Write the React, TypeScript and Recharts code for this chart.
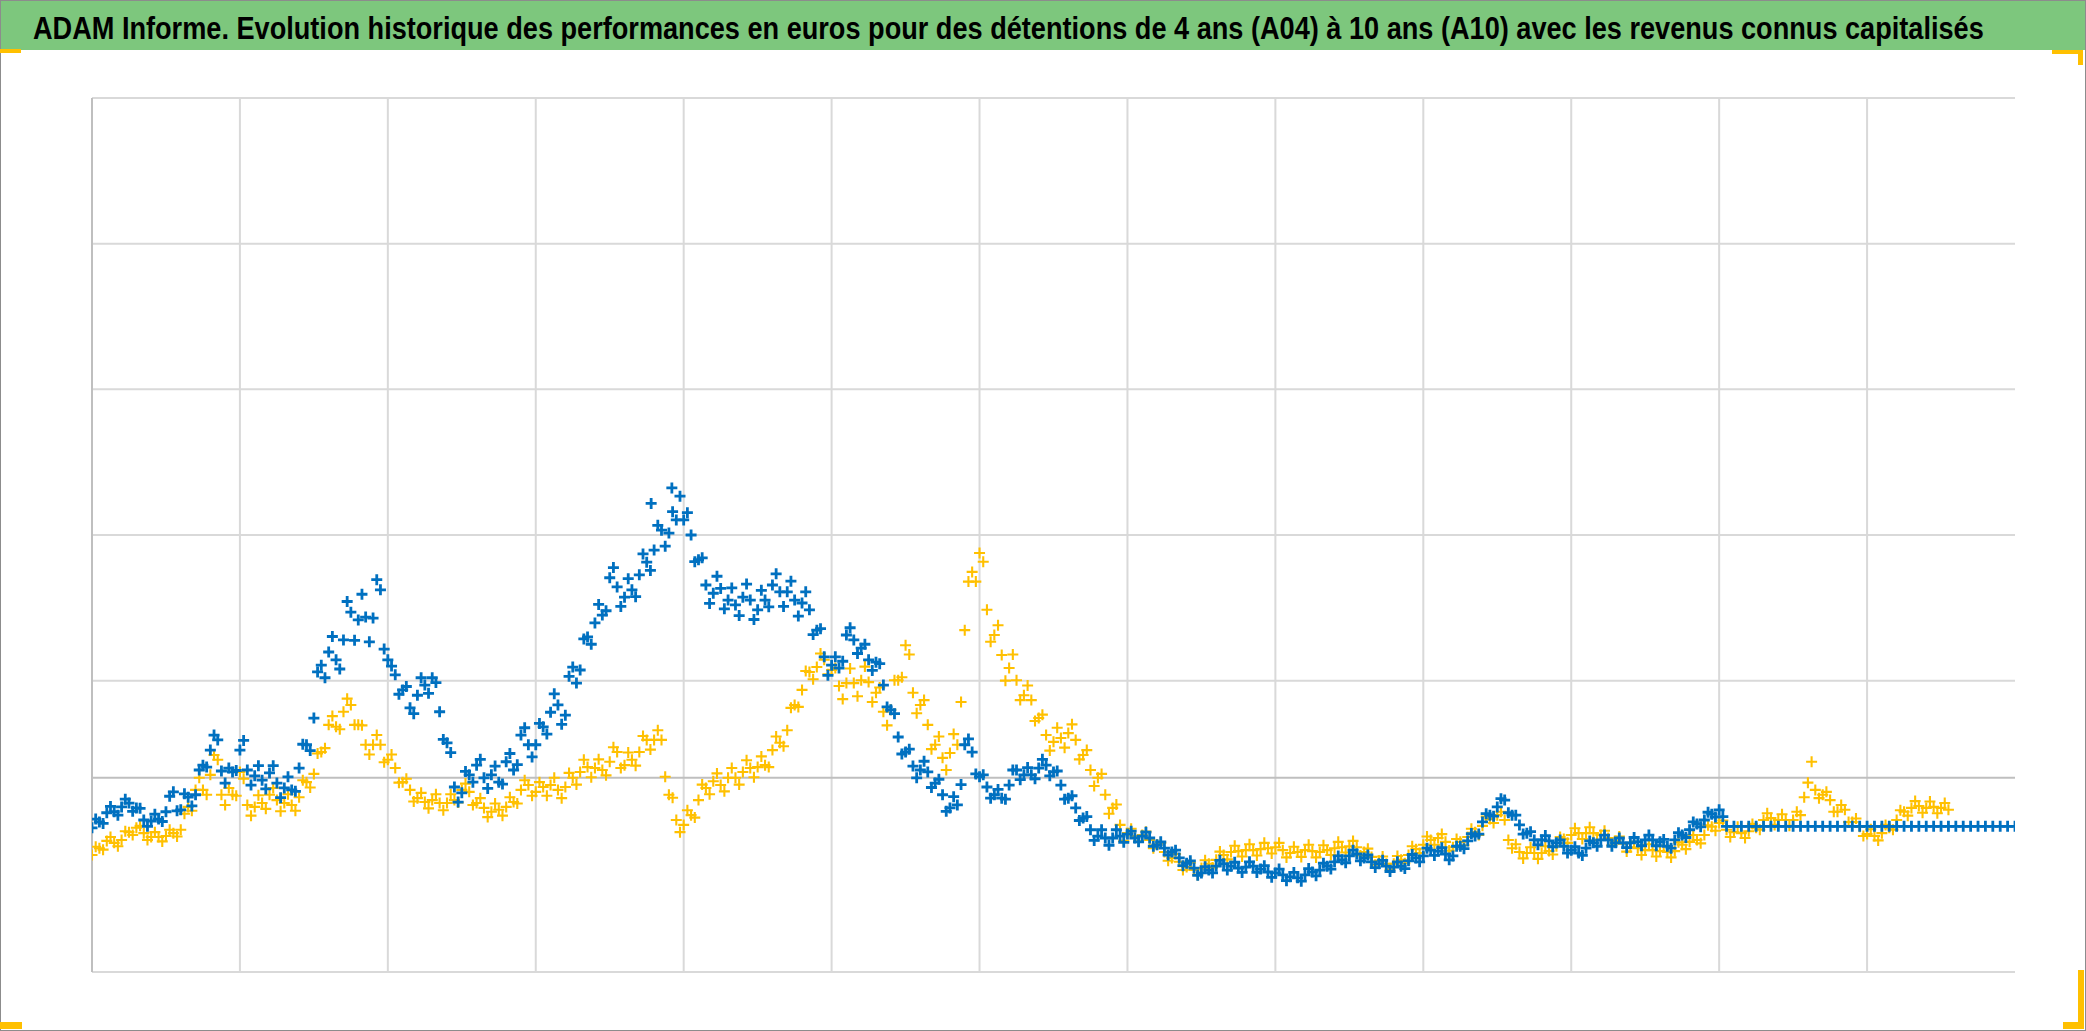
import React, { useLayoutEffect, useRef, useState } from 'react';
import { ScatterChart, Scatter, XAxis, YAxis, CartesianGrid, ReferenceLine } from 'recharts';

// Title
const TITLE = "ADAM Informe. Evolution historique des performances en euros pour des détentions de 4 ans (A04) à 10 ans (A10) avec les revenus connus capitalisés";

// Axis setup (no visible labels in the reference)
const X_STEP = 5;
const X_HALF = 2.5;
const X_DOMAIN: [number, number] = [0, 1300];
const Y_DOMAIN: [number, number] = [-40, 140];
const X_GRID = [100, 200, 300, 400, 500, 600, 700, 800, 900, 1000, 1100, 1200];
const Y_GRID = [-40, 20, 50, 80, 110, 140];

// Blue series (A04), readings at x = 0, 5, 10, ...
const serieA04 = [
  -10.3, -9.1, -7.2, -7, -6, -5.2, -6.2, -8.7, -8.9, -8.5,
  -7, -2.9, -6.6, -4, -3.5, 2.6, 5.7, 7.8, -1.1, 1.2,
  5.7, 1.6, 0.4, -0.5, 1, -1.1, -2.1, -2.5, 2, 6.8,
  12.3, 23.2, 25.9, 24.3, 28.4, 34.1, 32.5, 33.1, 32.9, 38.7,
  24.3, 21.2, 18.1, 14.4, 17, 19.1, 20.6, 13.6, 7.2, -1.9,
  -3.1, 0.6, 2.6, 0, 0.6, -0.9, 3.3, 1.6, 8.8, 6.8,
  6.8, 10.5, 13.5, 15, 12.9, 22.8, 22.2, 29, 31.9, 33.5,
  41.2, 39.3, 37.2, 38.7, 41.8, 44.4, 46.9, 51, 50.4, 53.1,
  53.1, 50, 44.9, 39.7, 38, 39, 36.6, 35.6, 37.2, 36.6,
  34.6, 36.6, 39.7, 38.3, 38.3, 36.6, 36, 34.6, 30.4, 24.9,
  23.2, 22.6, 29.4, 28.4, 26.7, 24.3, 23.8, 19.1, 14, 8.4,
  5.3, 2.4, 1.6, 1.2, -1.1, -3.5, -6.2, -5.6, 6.8, 5.3,
  0.2, -1.9, -3.5, -4.2, -1.5, 1.6, 0.6, 0.6, 2, 2.6,
  1.2, -1.5, -4.2, -6.2, -8.3, -10.7, -12, -12.4, -12.4, -12,
  -11.6, -12.4, -12, -12.4, -13.8, -14.5, -15.3, -16.5, -17.6, -18.6,
  -19.6, -19, -18.2, -17.7, -18.2, -18.6, -18.4, -18.2, -18.8, -19.4,
  -19.6, -20, -20.4, -20.6, -20, -19.4, -19, -18.2, -17.3, -16.9,
  -16.1, -15.7, -16.5, -17.3, -17.7, -18.2, -18.4, -18.2, -17.1, -16.5,
  -16.1, -14.9, -15.1, -15.7, -16.1, -14.1, -13, -12, -9.1, -7.7,
  -6, -4.6, -7.7, -9.7, -11.4, -12.8, -12.8, -13, -13.4, -14.1,
  -14.9, -15.5, -14.5, -13.4, -12.8, -12.8, -13.4, -13.4, -13.4, -13.2,
  -12.8, -12.8, -13.2, -14.1, -12.8, -11.8, -10.7, -9.5, -8.7, -7.5,
  -6.6, -10, -10, -10, -10, -10, -10, -10, -10, -10,
  -10, -10, -10, -10, -10, -10, -10, -10, -10, -10,
  -10, -10, -10, -10, -10, -10, -10, -10, -10, -10,
  -10, -10, -10, -10, -10, -10, -10, -10, -10, -10,
  -10,
];

// Blue series (A04), readings of the cloud at x = 2.5, 7.5, 12.5, ...
const serieA04b = [
  -8.5, -9.4, -5.9, -7.7, -4.4, -6.9, -6.3, -10, -7.5, -9,
  -3.8, -6.8, -3.3, -5.8, 1.6, 2.2, 8.8, 1.4, 2, 1.5,
  7.7, -1.5, 2.5, -2.3, 2.5, -4.1, 0.2, -2.8, 6.9, 5.6,
  21.8, 20.6, 29.1, 22.4, 36.3, 28.3, 37.8, 28, 40.8, 26.5,
  23, 17.2, 18.8, 13.2, 20.6, 17.4, 19.6, 7.9, 5.2, -5,
  1.3, -0.9, 3.8, -2.2, 2.4, -1.3, 5, 2.7, 10.3, 4.3,
  11.2, 9, 17.3, 11, 20.9, 19.5, 28.6, 27.5, 35.7, 34.4,
  43.3, 35.3, 41, 37.3, 46.1, 42.7, 52, 47.7, 54.8, 58,
  54.6, 44.5, 45.3, 35.9, 41.5, 34.8, 39.1, 33.4, 39.9, 32.6,
  38.6, 35.2, 42, 35.3, 40.5, 33.3, 38.3, 29.5, 30.7, 21.1,
  24.9, 24, 30.9, 25.6, 27.5, 22.1, 23.5, 14.6, 13.2, 4.9,
  5.9, 0, 3.4, -2, -0.3, -6.9, -3.9, -1.4, 8, 0.8,
  0.6, -4.2, -2.4, -4.4, 1.6, -0.4, 2.1, -0.2, 3.8, 0.4,
  1.4, -4.4, -3.7, -8.8, -8, -12.9, -10.7, -13.9, -10.7, -13.3,
  -11, -13.2, -11.2, -14.1, -13.2, -15.9, -14.9, -18.1, -17.1, -20.1,
  -18.3, -19.6, -17, -19, -17.4, -19.5, -17.3, -19.5, -18.1, -20.5,
  -18.8, -21.2, -19.5, -21.3, -18.7, -20.2, -17.6, -18.8, -16.1, -17.5,
  -14.9, -17.1, -15.9, -18.5, -17, -19.3, -17.3, -18.7, -15.8, -17.3,
  -14.5, -16, -14.4, -16.9, -14.1, -14.6, -11.5, -11.6, -7.4, -7.9,
  -4.3, -7.2, -7.7, -11.6, -11.1, -13.8, -11.9, -14.2, -12.8, -15.5,
  -14.2, -16, -13, -14.1, -11.8, -14.1, -12.4, -14.4, -12.3, -14,
  -11.8, -14, -12.7, -14.5, -11.3, -12.3, -9.1, -10.1, -7.1, -8.1,
  -8,
];

// Yellow series (A10), readings at x = 0, 5, 10, ...
const serieA10 = [
  -15.9, -14.5, -13, -13.4, -12.8, -11.2, -10.3, -11.4, -12.2, -12.2,
  -12, -11.4, -10.7, -6, -2.5, -2.5, 0.6, 3.7, -5.6, -3.5,
  1.2, -5.6, -6, -5.2, -3.5, -4.6, -5.2, -5.6, -4, -0.9,
  0.8, 5.3, 10.9, 10.5, 13.6, 15, 10.9, 6.8, 6.8, 6.8,
  3.7, 2, -0.9, -2.5, -4.2, -5, -4.6, -5.2, -5.2, -4.6,
  -2.5, -2.9, -5.2, -6.2, -7, -6.6, -6, -5, -2.5, -1.5,
  -2.9, -1.9, -1.5, -2.5, -1.9, 0, 1.2, 2.2, 2, 1.6,
  3.3, 5.3, 2.6, 3.7, 5.3, 7.8, 7.8, 7.8, -3.5, -8.7,
  -9.7, -7.7, -4.6, -2.1, -0.7, -1.5, 0, 0, 1.2, 2,
  2.2, 2.6, 5.7, 7.2, 9.8, 15, 18.1, 21.8, 22.8, 24.3,
  22.2, 18.9, 19.5, 19.5, 20.1, 19.7, 17.5, 13.6, 14, 20.1,
  27.3, 17.5, 15, 10.9, 6.8, 4.1, 5.1, 6.8, 30.4, 42.4,
  46.3, 34.6, 29.4, 25.3, 22.6, 20.1, 17, 16, 12.3, 8.8,
  7.4, 8.2, 9.2, 7.8, 4.7, 1.6, 0, -3.5, -6.2, -9.7,
  -11.4, -12, -11.8, -12.8, -13.8, -15.3, -16.5, -17.3, -18.4, -19,
  -18.6, -17.7, -16.9, -15.9, -15.3, -15.1, -14.9, -14.9, -14.7, -14.5,
  -14.3, -14.9, -15.5, -15.3, -14.9, -15.1, -15.3, -14.9, -14.5, -14.3,
  -14.1, -14.3, -15.3, -16.3, -17.1, -17.7, -17.7, -16.9, -15.9, -14.7,
  -13.8, -12.8, -12.4, -13.2, -14.3, -13.2, -12.2, -11.2, -9.9, -8.5,
  -7.7, -8.7, -14.5, -15.3, -15.5, -15.5, -15.5, -15.1, -14.1, -12.6,
  -11.8, -11.4, -11.4, -11.4, -11.8, -12.4, -13, -13.6, -14.3, -14.5,
  -14.9, -14.9, -15.1, -15.3, -15.1, -13.8, -13.2, -12.8, -11.8, -10.1,
  -9.3, -10.7, -11.2, -11.4, -11, -10.3, -8.7, -8.3, -8.7, -8.7,
  -8.7, -7.7, -1, -2.5, -3.5, -4.6, -7, -6.6, -9.1, -10.1,
  -11.6, -12, -11.4, -10.3, -8.7, -7, -6.2, -5.8, -6.2, -6,
  -6.2, -6.6,
];

// Yellow series (A10), readings of the cloud at x = 2.5, 7.5, 12.5, ...
const serieA10b = [
  -14.2, -14.8, -12.2, -14.1, -11, -11.8, -9.9, -12.8, -11.2, -13.1,
  -10.7, -12.1, -7.4, -6.8, 0, -3.5, 4.7, -3.5, -2.1, -3.7,
  -0.2, -7.8, -3.6, -6.4, -2.1, -6.9, -3.4, -6.8, -0.5, -2,
  5, 6.1, 12.7, 10, 16.3, 10.9, 10.8, 4.8, 8.8, 3.2,
  4.8, -1, -0.2, -4.9, -3.1, -6.3, -3.4, -6.7, -3.4, -5.1,
  -1.2, -5.6, -4.2, -8.1, -5.3, -7.8, -4, -5.3, -0.5, -3.7,
  -0.9, -3.7, 0, -4.2, 1, -1.4, 3.7, 0.1, 3.8, 0.5,
  6.3, 2, 5.2, 2.5, 8.6, 5.8, 9.8, 0.2, -4.1, -11.2,
  -6.7, -8.2, -1.4, -3.4, 0.9, -2.8, 2, -1.4, 3.6, 0.1,
  4.4, 2.2, 8.5, 6.5, 14.4, 14.6, 22, 20.3, 25.6, 21.3,
  22.6, 16.2, 22.5, 16.8, 22.9, 15.6, 18.6, 10.8, 20.1, 20.7,
  25.4, 13.3, 16, 5.9, 8.5, 1.6, 9, 15.6, 40.4, 40.4,
  44.5, 28, 31.4, 20, 25.4, 16, 19, 11.7, 13, 5.6,
  10.3, 6.2, 11, 3.8, 5.7, -1.7, 0.8, -7.4, -5.5, -13,
  -10.5, -13.1, -11.1, -14.5, -13.4, -17.1, -15.7, -19, -17.5, -20,
  -17, -18.5, -15.2, -16.8, -14, -16.2, -13.7, -16, -13.4, -15.6,
  -13.4, -16.4, -14.2, -16.3, -13.8, -16.4, -13.9, -15.9, -13.2, -15.4,
  -13, -16, -14.6, -17.9, -16.2, -18.9, -16.1, -17.6, -14.1, -15.5,
  -12.1, -13.8, -11.6, -15, -12.6, -13.9, -10.5, -11.8, -8, -9.3,
  -7, -12.8, -13.7, -16.6, -14.3, -16.7, -14.1, -15.8, -12.2, -13.4,
  -10.4, -12.6, -10.2, -12.8, -10.9, -13.9, -12.1, -15.2, -13.2, -15.9,
  -13.7, -16.2, -14, -16.4, -13.3, -14.7, -11.8, -13.5, -9.8, -10.9,
  -8.8, -12.2, -10.1, -12.4, -9.5, -10.7, -7.3, -9.7, -7.5, -9.9,
  -7, -4, 3.3, -4.2, -2.9, -7, -5.6, -9.1, -8.4, -12,
  -10.6, -12.9, -9.7, -10.7, -6.7, -7.8, -4.8, -7.2, -4.9, -7.3,
  -5.2,
];

// isolated marks read individually (x, y)
const extraA04 = [
  { x: 392, y: 59.7 },
  { x: 378, y: 56.5 },
];

const toPoints = (values: number[], offset: number) =>
  values.map((v, i) => ({ x: offset + i * X_STEP, y: v }));
const dataA04 = [...toPoints(serieA04, 0), ...toPoints(serieA04b, X_HALF), ...extraA04];
const dataA10 = [...toPoints(serieA10, 0), ...toPoints(serieA10b, X_HALF)];

const makePlus = (color: string, half: number, width: number) => (props: any) => {
  const { cx, cy } = props;
  if (cx == null || cy == null) return <g />;
  return (
    <path
      d={`M${cx - half},${cy}H${cx + half}M${cx},${cy - half}V${cy + half}`}
      stroke={color}
      strokeWidth={width}
      fill="none"
    />
  );
};

const BLUE = '#0070C0';
const YELLOW = '#FFC000';
const GREEN = '#7DC77D';

const W = 2086;
const H = 1031;
const TITLE_X = 33;
const TITLE_W = 1951;

function Title() {
  const ref = useRef<SVGTextElement | null>(null);
  const [sx, setSx] = useState(0.85);
  useLayoutEffect(() => {
    if (ref.current) {
      const natural = ref.current.getComputedTextLength();
      if (natural > 0) setSx(TITLE_W / natural);
    }
  }, []);
  return (
    <svg width={W} height={50} style={{ position: 'absolute', left: 0, top: 0 }}>
      <g transform={`translate(${TITLE_X},39) scale(${sx},1)`}>
        <text
          ref={ref}
          x={0}
          y={0}
          fontSize={32}
          fontWeight={700}
          fill="#000"
          fontFamily='"Liberation Sans Narrow", "Liberation Sans", Arial, sans-serif'
        >
          {TITLE}
        </text>
      </g>
    </svg>
  );
}

export default function App() {
  return (
    <div style={{ position: 'absolute', left: 0, top: 0, width: W, height: H, background: '#fff', overflow: 'hidden' }}>
      <div style={{ position: 'absolute', left: 0, top: 0, width: W, height: 50, background: GREEN }} />
      <Title />
      <div style={{ position: 'absolute', left: 0, top: 0 }}>
        <ScatterChart width={W} height={H} margin={{ top: 98, left: 92, right: 71, bottom: 59 }}>
          <XAxis type="number" dataKey="x" domain={X_DOMAIN} hide allowDataOverflow />
          <YAxis type="number" dataKey="y" domain={Y_DOMAIN} hide allowDataOverflow />
          <CartesianGrid
            stroke="#D9D9D9"
            strokeWidth={2}
            horizontalValues={Y_GRID}
            verticalValues={X_GRID}
          />
          <ReferenceLine y={0} stroke="#BFBFBF" strokeWidth={2} />
          <ReferenceLine x={0} stroke="#BFBFBF" strokeWidth={2} />
          <Scatter data={dataA10} name="A10" isAnimationActive={false} shape={makePlus(YELLOW, 5.5, 2.1)} />
          <Scatter data={dataA04} name="A04" isAnimationActive={false} shape={makePlus(BLUE, 5.5, 2.8)} />
        </ScatterChart>
      </div>
      {/* frame */}
      <div style={{ position: 'absolute', left: 0, top: 0, width: W, height: H, boxSizing: 'border-box', border: '1px solid #8C8C8C', pointerEvents: 'none' }} />
      {/* selection handles */}
      <div style={{ position: 'absolute', left: 0, top: 49, width: 21, height: 4, background: YELLOW }} />
      <div style={{ position: 'absolute', left: 2052, top: 50, width: 31, height: 4, background: YELLOW }} />
      <div style={{ position: 'absolute', left: 2078, top: 50, width: 5, height: 15, background: YELLOW }} />
      <div style={{ position: 'absolute', left: 0, top: 1022, width: 22, height: 7, background: YELLOW }} />
      <div style={{ position: 'absolute', left: 2063, top: 1022, width: 21, height: 7, background: YELLOW }} />
      <div style={{ position: 'absolute', left: 2078, top: 970, width: 6, height: 59, background: YELLOW }} />
    </div>
  );
}
